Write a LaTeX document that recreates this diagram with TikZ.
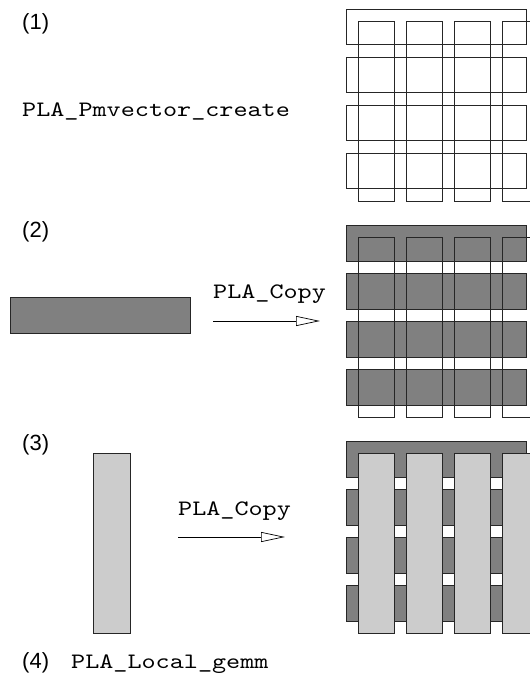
\documentclass[tikz,border=0pt]{standalone}
\usepackage{fontspec}
\setmainfont{Liberation Sans}
\newfontfamily\codefont{lmmono10-regular.otf}[FakeStretch = 1.22]
\usetikzlibrary{arrows.meta}

\begin{document}
\begin{tikzpicture}[
  x = 1pt, y = -1pt,
  every node/.style = {inner sep = 0pt, anchor = base west},
  step label/.style = {font = \fontsize{22}{26}\selectfont},
  call label/.style = {font = \codefont\fontsize{22}{26}\selectfont},
  grid line/.style = {draw = black!85, line width = 0.8pt},
  dark block/.style = {grid line, fill = black!50},
  light block/.style = {grid line, fill = black!20},
  copy arrow/.style = {-{Triangle[open, length = 24pt, width = 10pt]}, line width = 0.7pt},
]
\useasboundingbox (0,0) rectangle (530,688);
\clip (0,0) rectangle (530,688);
% rows start at \ta, \tb, \tc; columns hang 12 below the first row
\def\ta{9}
\def\tb{225}
\def\tc{441}

% (1) distributed vector created
\node[step label] (stepone) at (22,29) {(1)};
\node[call label] (create) at (22,116) {PLA\_Pmvector\_create};
\foreach \r in {0,48,96,144}
  \draw[grid line] (346,\ta+\r) rectangle (526,\ta+\r+35);
\foreach \c in {358,406,454,502}
  \draw[grid line] (\c,\ta+12) rectangle (\c+36,\ta+192);

% (2) row vector copied
\node[step label] (steptwo) at (22,237) {(2)};
\draw[dark block] (10,\tb+72) rectangle (190,\tb+108);
\node[call label] (copyrow) at (213,298) {PLA\_Copy};
\coordinate (rowfrom) at (213,321);
\coordinate (rowto) at (320,321);
\draw[copy arrow] (rowfrom) -- (rowto);
\foreach \r in {0,48,96,144}
  \draw[dark block] (346,\tb+\r) rectangle (526,\tb+\r+36);
\foreach \c in {358,406,454,502}
  \draw[grid line] (\c,\tb+12) rectangle (\c+36,\tb+192);

% (3) column vector copied
\node[step label] (stepthree) at (22,450) {(3)};
\draw[light block] (93,\tc+12) rectangle (130,\tc+192);
\node[call label] (copycol) at (178,515) {PLA\_Copy};
\coordinate (colfrom) at (178,537);
\coordinate (colto) at (285,537);
\draw[copy arrow] (colfrom) -- (colto);
\foreach \r in {0,48,96,144}
  \draw[dark block] (346,\tc+\r) rectangle (526,\tc+\r+36);
\foreach \c in {358,406,454,502}
  \draw[light block] (\c,\tc+12) rectangle (\c+36,\tc+192);

% (4)
\node[step label] (stepfour) at (22,668) {(4)};
\node[call label] (gemm) at (71,668) {PLA\_Local\_gemm};
\end{tikzpicture}
\end{document}
